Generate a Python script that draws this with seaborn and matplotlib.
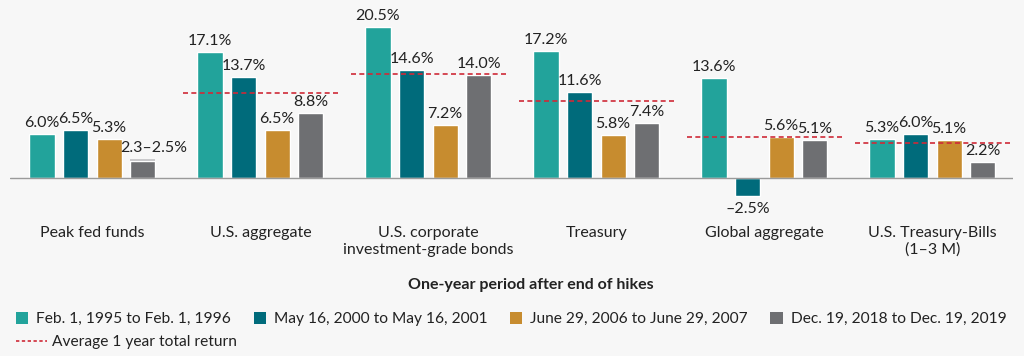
import numpy as np
import pandas as pd
import seaborn as sns
import matplotlib.pyplot as plt
from matplotlib.patches import Patch
from matplotlib.lines import Line2D

# Chart data
categories = ['Peak fed funds', 'U.S. aggregate', 'U.S. corporate\ninvestment-grade bonds',
              'Treasury', 'Global aggregate', 'U.S. Treasury-Bills\n(1–3 M)']
periods = ['Feb. 1, 1995 to Feb. 1, 1996', 'May 16, 2000 to May 16, 2001',
           'June 29, 2006 to June 29, 2007', 'Dec. 19, 2018 to Dec. 19, 2019']
ret_1995 = [6.0, 17.1, 20.5, 17.2, 13.6, 5.3]
ret_2000 = [6.5, 13.7, 14.6, 11.6, -2.5, 6.0]
ret_2006 = [5.3, 6.5, 7.2, 5.8, 5.6, 5.1]
ret_2018 = [2.3, 8.8, 14.0, 7.4, 5.1, 2.2]
fed_2018_high = 2.5                                   # upper end of the 2.3–2.5% range
averages = [np.nan, 11.5, 14.1, 10.5, 5.5, 4.7]
labels_1995 = ['6.0%', '17.1%', '20.5%', '17.2%', '13.6%', '5.3%']
labels_2000 = ['6.5%', '13.7%', '14.6%', '11.6%', '–2.5%', '6.0%']
labels_2006 = ['5.3%', '6.5%', '7.2%', '5.8%', '5.6%', '5.1%']
labels_2018 = ['2.3–2.5%', '8.8%', '14.0%', '7.4%', '5.1%', '2.2%']

colors = ['#22a39b', '#006b7b', '#c78c2f', '#6e6f72']
bg = '#f7f7f7'
red = '#cf2a38'
txt = '#222222'

# Long table for seaborn
rows = []
for period, vals in zip(periods, [ret_1995, ret_2000, ret_2006, ret_2018]):
    for cat, v in zip(categories, vals):
        rows.append({'category': cat, 'period': period, 'value': v})
df = pd.DataFrame(rows)

sns.set_style('white')
plt.rcParams['font.family'] = ['Lato', 'DejaVu Sans']

fig = plt.figure(figsize=(10.24, 3.56), dpi=100, facecolor=bg)
ax = fig.add_axes([10 / 1024, 1 - 200 / 356, 1003 / 1024, 190 / 356])
ax.set_facecolor(bg)

sns.barplot(data=df, x='category', y='value', hue='period', order=categories,
            hue_order=periods, palette=colors, width=0.8, gap=0.25,
            saturation=1, legend=False, ax=ax)

# Lighter band showing the 2.3–2.5% range on the peak fed funds bar
p = ax.containers[3][0]
ax.bar(p.get_x() + p.get_width() / 2, fed_2018_high - ret_2018[0], bottom=ret_2018[0],
       width=p.get_width(), color='#c9c9cb', linewidth=0)

# Value labels
all_labels = [labels_1995, labels_2000, labels_2006, labels_2018]
for cont, labs in zip(ax.containers[:4], all_labels):
    for bar, lab in zip(cont, labs):
        x = bar.get_x() + bar.get_width() / 2
        h = bar.get_height()
        if lab == '2.3–2.5%':
            ax.annotate(lab, (x, fed_2018_high), xytext=(8, 3), textcoords='offset points',
                        ha='center', va='bottom', fontsize=11.5, color=txt)
        elif h >= 0:
            ax.annotate(lab, (x, h), xytext=(0, 3), textcoords='offset points',
                        ha='center', va='bottom', fontsize=11.5, color=txt)
        else:
            ax.annotate(lab, (x, h), xytext=(0, -4), textcoords='offset points',
                        ha='center', va='top', fontsize=11.5, color=txt)

# Average dashed lines
for i, a in enumerate(averages):
    if not np.isnan(a):
        ax.plot([i - 0.46, i + 0.46], [a, a], color=red, lw=1.2, ls=(0, (3, 2)))

ax.axhline(0, color='#9a9a9a', lw=1)
ax.set_xlim(-0.49, 5.48)
ax.set_ylim(-3, 22.8)
ax.set_xlabel('')
ax.set_ylabel('')
ax.set_yticks([])
ax.tick_params(axis='x', length=0, pad=19, labelsize=11.5, labelcolor=txt)
for lab in ax.get_xticklabels():
    lab.set_verticalalignment('top')
for s in ax.spines.values():
    s.set_visible(False)

fig.text(531 / 1024, 1 - 285 / 356, 'One-year period after end of hikes',
         ha='center', va='center', fontsize=11.5, fontweight='bold', color=txt)

# Legends
sq = [Patch(facecolor=c, edgecolor='none') for c in colors]
leg1 = fig.legend(sq, periods, loc='center left', bbox_to_anchor=(16 / 1024, 1 - 319 / 356),
                  ncol=4, frameon=False, fontsize=11.2, handlelength=0.8, handleheight=0.8,
                  handletextpad=0.5, columnspacing=1.45, borderaxespad=0, borderpad=0,
                  labelcolor=txt)
avg_handle = Line2D([0], [0], color=red, lw=1.2, ls=(0, (2, 1.5)))
leg2 = fig.legend([avg_handle], ['Average 1 year total return'], loc='center left',
                  bbox_to_anchor=(16 / 1024, 1 - 342 / 356), frameon=False, fontsize=11.2,
                  handlelength=2.0, handletextpad=0.3, borderaxespad=0, borderpad=0,
                  labelcolor=txt)

fig.savefig('out.png', dpi=100, facecolor=bg)
